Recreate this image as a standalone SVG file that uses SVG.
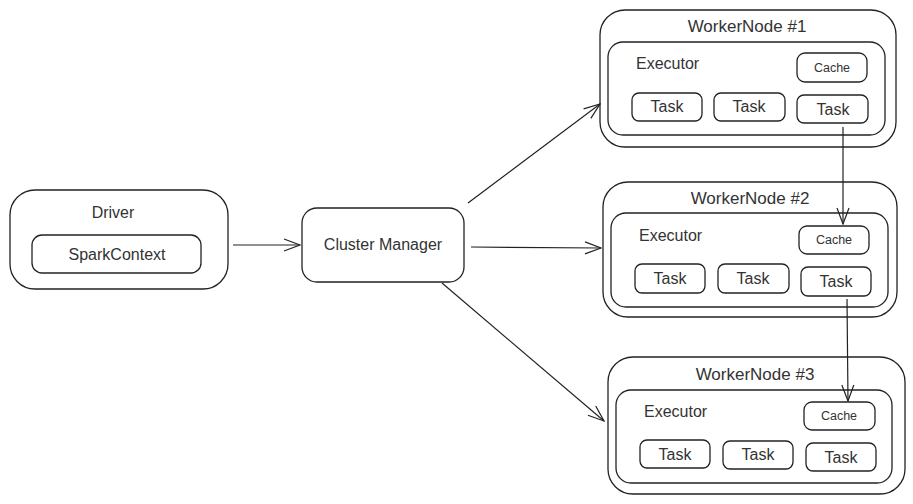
<svg xmlns="http://www.w3.org/2000/svg" width="913" height="504" viewBox="0 0 913 504">
<style>
rect{fill:#fff;stroke:#222;stroke-width:1.3}
text{font-family:"Liberation Sans",Arial,sans-serif;fill:#333;text-anchor:middle;dominant-baseline:central}
.t16{font-size:17px}.t15{font-size:16px}.t12{font-size:12.5px}
.l{text-anchor:start}
.c line{stroke:#222;stroke-width:1.2;marker-end:url(#a)}
</style>
<defs>
<marker id="a" viewBox="0 0 18 14" refX="17" refY="7" markerWidth="18" markerHeight="14" markerUnits="userSpaceOnUse" orient="auto">
<path d="M1,1 L17,7 L1,13" fill="none" stroke="#222" stroke-width="1.2"/>
</marker>
</defs>
<g id="driver">
<rect x="10" y="190" width="218" height="99" rx="25"/>
<text x="113" y="212" class="t15">Driver</text>
<rect x="32" y="235" width="169" height="38" rx="10"/>
<text x="117" y="254" class="t15">SparkContext</text>
</g>
<g id="cluster-manager">
<rect x="302" y="208" width="162" height="74" rx="15"/>
<text x="383" y="244" class="t15">Cluster Manager</text>
</g>
<g id="worker1" transform="translate(600,10)">
<rect x="0" y="0" width="296" height="137" rx="25"/>
<text x="147" y="16" class="t16">WorkerNode #1</text>
<rect x="8" y="32" width="277" height="93" rx="15"/>
<text x="36" y="53" class="t15 l">Executor</text>
<rect x="197" y="43" width="70" height="29" rx="8"/>
<text x="232" y="58" class="t12">Cache</text>
<rect x="32" y="83" width="70" height="28" rx="7"/>
<text x="67" y="96" class="t15">Task</text>
<rect x="114" y="83" width="71" height="28" rx="7"/>
<text x="149" y="96" class="t15">Task</text>
<rect x="197" y="85" width="71" height="28" rx="7"/>
<text x="233" y="99" class="t15">Task</text>
</g>
<g id="worker2" transform="translate(603,182)">
<rect x="0" y="0" width="294" height="135" rx="25"/>
<text x="147" y="16" class="t16">WorkerNode #2</text>
<rect x="8" y="31" width="277" height="94" rx="15"/>
<text x="36" y="53" class="t15 l">Executor</text>
<rect x="196" y="44" width="70" height="28" rx="8"/>
<text x="231" y="58" class="t12">Cache</text>
<rect x="32" y="82" width="70" height="29" rx="7"/>
<text x="67" y="96" class="t15">Task</text>
<rect x="115" y="82" width="71" height="29" rx="7"/>
<text x="150" y="96" class="t15">Task</text>
<rect x="198" y="85" width="70" height="29" rx="7"/>
<text x="233" y="99" class="t15">Task</text>
</g>
<g id="worker3" transform="translate(608,357)">
<rect x="0" y="0" width="297" height="137" rx="25"/>
<text x="147" y="17" class="t16">WorkerNode #3</text>
<rect x="8" y="33" width="276" height="93" rx="15"/>
<text x="36" y="54" class="t15 l">Executor</text>
<rect x="196" y="45" width="71" height="28" rx="8"/>
<text x="231" y="59" class="t12">Cache</text>
<rect x="32" y="83" width="70" height="28" rx="7"/>
<text x="67" y="97" class="t15">Task</text>
<rect x="115" y="84" width="70" height="28" rx="7"/>
<text x="150" y="97" class="t15">Task</text>
<rect x="198" y="86" width="70" height="28" rx="7"/>
<text x="233" y="100" class="t15">Task</text>
</g>
<g id="connectors" class="c">
<line x1="233" y1="245" x2="300" y2="245"/>
<line x1="468" y1="203" x2="600" y2="104"/>
<line x1="471" y1="247" x2="601" y2="248"/>
<line x1="442" y1="283" x2="604" y2="421"/>
<line x1="843" y1="127" x2="843" y2="224"/>
<line x1="847" y1="299" x2="848" y2="401"/>
</g>
</svg>
